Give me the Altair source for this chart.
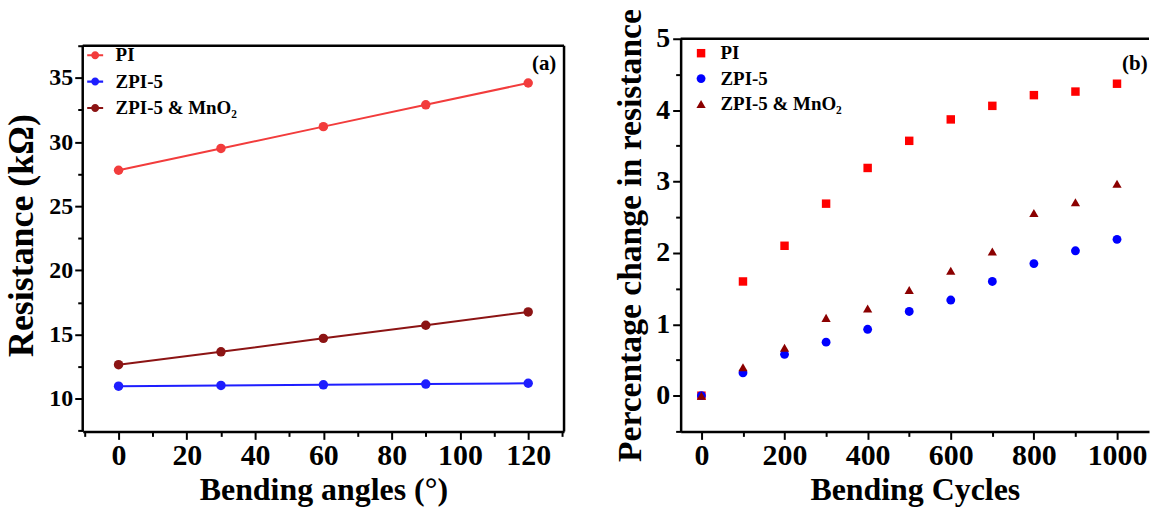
import altair as alt
import pandas as pd

# ---- panel (a): resistance vs bending angle ----
angles = [0, 30, 60, 90, 120]
pi_res = [27.8, 29.5, 31.2, 32.9, 34.6]
zpi_res = [10.97, 11.03, 11.08, 11.14, 11.2]
mno2_res = [12.65, 13.65, 14.7, 15.72, 16.76]

# ---- panel (b): percentage change vs bending cycles ----
cycles = [0, 100, 200, 300, 400, 500, 600, 700, 800, 900, 1000]
pi_pct = [0, 1.60, 2.10, 2.69, 3.19, 3.57, 3.87, 4.06, 4.21, 4.26, 4.37]
zpi_pct = [0, 0.32, 0.58, 0.75, 0.93, 1.18, 1.34, 1.60, 1.85, 2.03, 2.19]
mno2_pct = [0, 0.40, 0.67, 1.09, 1.22, 1.48, 1.75, 2.02, 2.56, 2.71, 2.97]

names = ["PI", "ZPI-5", "ZPI-5 & MnO₂"]
colors_a = ["#F23C3C", "#1E1EFF", "#8C1414"]
colors_b = ["#FF0000", "#0000FF", "#8B0000"]
shapes_b = ["square", "circle", "triangle-up"]
sizes_b = [72, 86, 110]
panel_tags = ["(a)", "(b)"]

ax_ticks = [-10, 0, 10, 20, 30, 40, 50, 60, 70, 80, 90, 100, 110, 120, 130]
ay_ticks = [7.5, 10, 12.5, 15, 17.5, 20, 22.5, 25, 27.5, 30, 32.5, 35, 37.5]
bx_ticks = [0, 100, 200, 300, 400, 500, 600, 700, 800, 900, 1000]
by_ticks = [-0.5, 0, 0.5, 1, 1.5, 2, 2.5, 3, 3.5, 4, 4.5, 5]

FONT = "Liberation Serif"
WA, WB, H = 483, 470, 394

df_a = pd.DataFrame({
    "angle": angles * 3,
    "res": pi_res + zpi_res + mno2_res,
    "series": [names[0]] * 5 + [names[1]] * 5 + [names[2]] * 5,
})
df_a["trace"] = df_a["series"]
df_b = pd.DataFrame({
    "cycle": cycles * 3,
    "pct": pi_pct + zpi_pct + mno2_pct,
    "series": [names[0]] * 11 + [names[1]] * 11 + [names[2]] * 11,
})


def major_minor_axis(values, step, title, label_size, title_size=32, **kw):
    test = f"abs(datum.value % {step}) < 1e-9"
    return alt.Axis(
        values=values,
        title=title,
        labelExpr=f"{test} ? toString(datum.value) : ''",
        tickSize={"condition": {"test": test, "value": 8}, "value": 5},
        labelFontSize=label_size,
        titleFontSize=title_size,
        grid=False,
        domainWidth=2.5,
        domainColor="black",
        tickWidth=2,
        tickColor="black",
        labelColor="black",
        titleColor="black",
        labelOverlap=False,
        labelFlush=False,
        **kw,
    )


# custom legend glyph: short line through a dot
LINE_DOT = ("M -1 -0.13 L 1 -0.13 L 1 0.13 L -1 0.13 Z "
            "M 0.5 0 A 0.5 0.5 0 1 1 -0.5 0 A 0.5 0.5 0 1 1 0.5 0 Z")

scale_ax = alt.Scale(domain=[-10.5, 130.5], nice=False, zero=False)
scale_ay = alt.Scale(domain=[7.45, 38.05], nice=False, zero=False)
axis_ax = major_minor_axis(ax_ticks, 20, "Bending angles (°)", 30, labelPadding=1, titlePadding=4)
axis_ay = major_minor_axis(ay_ticks, 5, "Resistance (kΩ)", 24, title_size=36,
                           labelPadding=2, titlePadding=8, domain=False)


def ya(field):
    return alt.Y(f"{field}:Q", scale=scale_ay, axis=axis_ay)


xa = alt.X("angle:Q", scale=scale_ax, axis=axis_ax)

points_a = alt.Chart(df_a).mark_point(filled=True, size=90, opacity=1).encode(
    x=xa, y=ya("res"),
    color=alt.Color("series:N", scale=alt.Scale(domain=names, range=colors_a),
                    legend=alt.Legend(title=None, orient="none", legendX=3, legendY=7,
                                      symbolType=LINE_DOT, symbolSize=256, symbolStrokeWidth=0,
                                      symbolOpacity=1, labelFont=FONT, labelFontSize=19,
                                      labelFontWeight="bold", labelColor="black",
                                      labelOffset=11, rowPadding=6.5, padding=0)),
)
lines_a = alt.Chart(df_a).mark_line(strokeWidth=2).encode(
    x=xa, y=ya("res"),
    stroke=alt.Stroke("trace:N", scale=alt.Scale(domain=names, range=colors_a), legend=None),
)

# plot frame: top, right and left edges
frame_a = pd.DataFrame({"v": [37.5]})
top_a = alt.Chart(frame_a).mark_rule(color="black", strokeWidth=2.5).encode(
    y=ya("v"), x=alt.value(0), x2=alt.value(WA))
right_a = alt.Chart(frame_a).mark_rule(color="black", strokeWidth=2.5).encode(
    y=ya("v"), y2=alt.value(H), x=alt.value(WA))
left_a = alt.Chart(frame_a).mark_rule(color="black", strokeWidth=2.5).encode(
    y=ya("v"), y2=alt.value(H), x=alt.value(0))
tag_a = alt.Chart(pd.DataFrame({"t": [panel_tags[0]]})).mark_text(
    font=FONT, fontSize=21, fontWeight="bold", color="black", align="center", baseline="middle"
).encode(text="t:N", x=alt.value(463), y=alt.value(25))

panel_a = alt.layer(points_a, lines_a, top_a, right_a, left_a, tag_a).properties(width=WA, height=H)

# ---- panel (b) ----
xb = alt.X("cycle:Q", scale=alt.Scale(domain=[-50, 1077], nice=False, zero=False),
           axis=major_minor_axis(bx_ticks, 200, "Bending Cycles", 30, labelPadding=1, titlePadding=4))
yb = alt.Y("pct:Q", scale=alt.Scale(domain=[-0.5, 5], nice=False, zero=False),
           axis=major_minor_axis(by_ticks, 1, "Percentage change in resistance", 28, title_size=33.7,
                                 labelPadding=3, titlePadding=8))

legend_b = alt.Legend(title=None, orient="none", legendX=11, legendY=5,
                      symbolSize=80, symbolStrokeWidth=0, symbolOpacity=1,
                      labelFont=FONT, labelFontSize=19, labelFontWeight="bold",
                      labelColor="black", labelOffset=10, rowPadding=5.5, padding=0)
points_b = alt.Chart(df_b).mark_point(filled=True, opacity=1).encode(
    x=xb, y=yb,
    color=alt.Color("series:N", scale=alt.Scale(domain=names, range=colors_b), legend=legend_b),
    shape=alt.Shape("series:N", scale=alt.Scale(domain=names, range=shapes_b), legend=legend_b),
    size=alt.Size("series:N", scale=alt.Scale(domain=names, range=sizes_b), legend=None),
)
top_b = alt.Chart(pd.DataFrame({"v": [5]})).mark_rule(color="black", strokeWidth=2.5).encode(
    y=alt.value(0), x=alt.value(0), x2=alt.value(WB))
tag_b = alt.Chart(pd.DataFrame({"t": [panel_tags[1]]})).mark_text(
    font=FONT, fontSize=21, fontWeight="bold", color="black", align="left", baseline="middle"
).encode(text="t:N", x=alt.value(443), y=alt.value(25))

panel_b = alt.layer(points_b, top_b, tag_b).properties(width=WB, height=H)

chart = alt.hconcat(panel_a, panel_b, spacing=117, bounds="flush").resolve_scale(
    color="independent", shape="independent", size="independent",
    x="independent", y="independent", stroke="independent",
).resolve_legend(color="independent", shape="independent").configure_view(
    stroke="transparent"
).configure_axis(
    labelFont=FONT, labelFontWeight="bold", titleFont=FONT, titleFontWeight="bold"
).properties(padding={"left": 3, "top": 7, "right": 0, "bottom": 0}, background="white")

chart.save("out.html", embed_options={"renderer": "svg", "actions": False})
